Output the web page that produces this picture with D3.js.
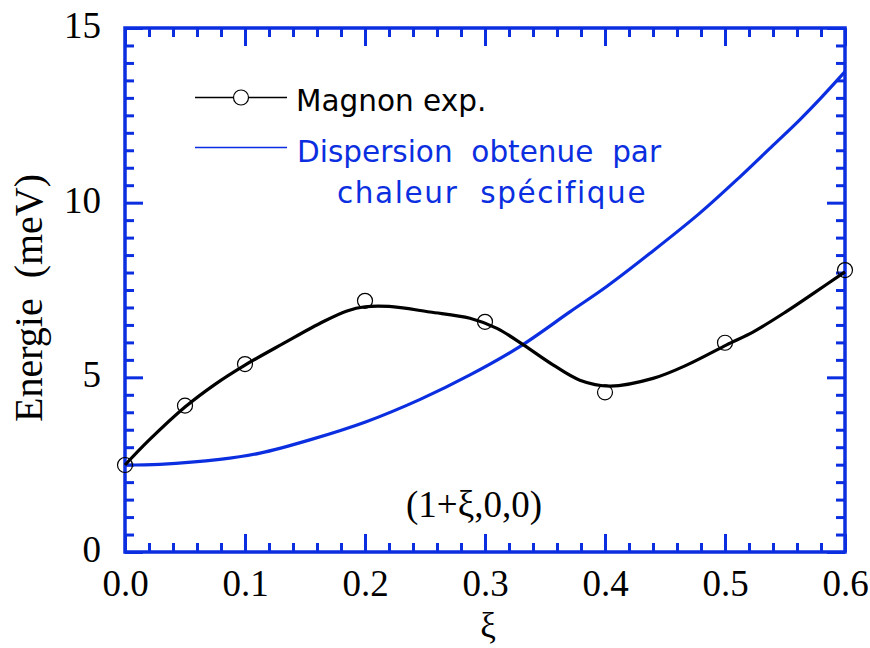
<!DOCTYPE html>
<html>
<head>
<meta charset="utf-8">
<script src="https://cdn.jsdelivr.net/npm/d3@7"></script>
<style>
  html, body { margin: 0; padding: 0; background: #fff; }
  svg { display: block; }
</style>
</head>
<body>
<svg id="chart" width="870" height="648"></svg>
<script>
// ---- Data ----
const xMajorTicks = [0, 0.1, 0.2, 0.3, 0.4, 0.5, 0.6];
const xTickLabels = ["0.0", "0.1", "0.2", "0.3", "0.4", "0.5", "0.6"];
const yMajorTicks = [0, 5, 10, 15];
const yTickLabels = ["0", "5", "10", "15"];

// Experimental magnon points
const magnonX = [0, 0.05, 0.1, 0.2, 0.3, 0.4, 0.5, 0.6];
const magnonE = [2.49, 4.19, 5.38, 7.19, 6.59, 4.57, 5.99, 8.07];

// Smooth guide curve through the magnon data
const magnonCurveX = [0, 0.02, 0.05, 0.075, 0.1, 0.132, 0.165, 0.185, 0.2, 0.22, 0.254, 0.2875, 0.31, 0.332, 0.357, 0.379, 0.404, 0.44, 0.468, 0.5014, 0.524, 0.551, 0.574, 0.6];
const magnonCurveE = [2.49, 3.2, 4.15, 4.8, 5.35, 5.97, 6.59, 6.9, 7.02, 7.03, 6.87, 6.69, 6.40, 5.93, 5.35, 4.92, 4.75, 4.97, 5.35, 5.93, 6.31, 6.88, 7.41, 8.02];

// Dispersion from specific heat
const dispX = [0, 0.029, 0.079, 0.1125, 0.154, 0.201, 0.246, 0.2875, 0.329, 0.371, 0.4014, 0.4375, 0.479, 0.5125, 0.54, 0.5625, 0.58, 0.6];
const dispE = [2.49, 2.51, 2.65, 2.83, 3.21, 3.73, 4.37, 5.07, 5.88, 6.88, 7.60, 8.55, 9.70, 10.74, 11.64, 12.38, 13.0, 13.75];

const legendLabels = ["Magnon exp.", "Dispersion  obtenue  par", "chaleur  spécifique"];

// ---- Layout ----
const BLUE = "#0b2fe0";
const svg = d3.select("#chart");
const pL = 125, pR = 845, pT = 28, pB = 552;

const x = d3.scaleLinear().domain([0, 0.6]).range([pL, pR]);
const y = d3.scaleLinear().domain([0, 15]).range([pB, pT]);

const xMinor = d3.range(0, 0.6001, 0.02).filter(v => Math.abs(v * 10 - Math.round(v * 10)) > 1e-6);
const yMinor = d3.range(0, 15.001, 0.5).filter(v => Math.abs(v / 5 - Math.round(v / 5)) > 1e-6);

const serif = "'Liberation Serif', 'Times New Roman', serif";
const sans = "'DejaVu Sans', Verdana, sans-serif";

function styleAxis(g) {
  g.select(".domain").remove();
  g.selectAll(".tick line").attr("stroke", BLUE).attr("stroke-width", 3);
  g.selectAll(".tick text").attr("fill", "#000").attr("font-family", serif).attr("font-size", 37);
}

// Bottom axis
svg.append("g").attr("transform", `translate(0,${pB})`)
  .call(d3.axisBottom(x).tickValues(xMinor).tickSize(-9).tickFormat(""))
  .call(styleAxis);
svg.append("g").attr("transform", `translate(0,${pB})`)
  .call(d3.axisBottom(x).tickValues(xMajorTicks).tickSize(-18).tickPadding(18)
    .tickFormat((d, i) => xTickLabels[i]))
  .call(styleAxis);
// Top axis
svg.append("g").attr("transform", `translate(0,${pT})`)
  .call(d3.axisTop(x).tickValues(xMinor).tickSize(-9).tickFormat(""))
  .call(styleAxis);
svg.append("g").attr("transform", `translate(0,${pT})`)
  .call(d3.axisTop(x).tickValues(xMajorTicks).tickSize(-18).tickFormat(""))
  .call(styleAxis);
// Left axis
svg.append("g").attr("transform", `translate(${pL},0)`)
  .call(d3.axisLeft(y).tickValues(yMinor).tickSize(-9).tickFormat(""))
  .call(styleAxis);
const yAxisG = svg.append("g").attr("transform", `translate(${pL},0)`)
  .call(d3.axisLeft(y).tickValues(yMajorTicks).tickSize(-18).tickPadding(24)
    .tickFormat((d, i) => yTickLabels[i]))
  .call(styleAxis);
yAxisG.selectAll(".tick text").attr("dy", "0.26em");
// Right axis
svg.append("g").attr("transform", `translate(${pR},0)`)
  .call(d3.axisRight(y).tickValues(yMinor).tickSize(-9).tickFormat(""))
  .call(styleAxis);
svg.append("g").attr("transform", `translate(${pR},0)`)
  .call(d3.axisRight(y).tickValues(yMajorTicks).tickSize(-18).tickFormat(""))
  .call(styleAxis);

// Frame
svg.append("rect")
  .attr("x", pL).attr("y", pT)
  .attr("width", pR - pL).attr("height", pB - pT)
  .attr("fill", "none").attr("stroke", BLUE).attr("stroke-width", 3.5);

// Curves
const line = d3.line().x(d => x(d[0])).y(d => y(d[1])).curve(d3.curveCatmullRom.alpha(0.5));

svg.append("path")
  .datum(dispX.map((v, i) => [v, dispE[i]]))
  .attr("d", line).attr("fill", "none").attr("stroke", BLUE).attr("stroke-width", 3.2);

svg.append("path")
  .datum(magnonCurveX.map((v, i) => [v, magnonCurveE[i]]))
  .attr("d", line).attr("fill", "none").attr("stroke", "#000").attr("stroke-width", 3.2);

svg.append("g").selectAll("circle")
  .data(magnonX.map((v, i) => [v, magnonE[i]]))
  .join("circle")
  .attr("cx", d => x(d[0])).attr("cy", d => y(d[1])).attr("r", 7.5)
  .attr("fill", "none").attr("stroke", "#000").attr("stroke-width", 1.2);

// Legend
const lg = svg.append("g");
lg.append("line").attr("x1", 195).attr("x2", 287).attr("y1", 97.5).attr("y2", 97.5)
  .attr("stroke", "#000").attr("stroke-width", 1.5);
lg.append("circle").attr("cx", 241).attr("cy", 97.5).attr("r", 7.5)
  .attr("fill", "#fff").attr("stroke", "#000").attr("stroke-width", 1.2);
lg.append("text").attr("x", 296).attr("y", 110.5).text(legendLabels[0])
  .attr("font-family", sans).attr("font-size", 29.5).attr("fill", "#000");
lg.append("line").attr("x1", 195).attr("x2", 287).attr("y1", 147.5).attr("y2", 147.5)
  .attr("stroke", BLUE).attr("stroke-width", 1.5);
lg.append("text").attr("x", 297).attr("y", 161.5).text(legendLabels[1])
  .attr("font-family", sans).attr("font-size", 29.5).attr("fill", BLUE)
  .style("white-space", "pre");
lg.append("text").attr("x", 337).attr("y", 203).text(legendLabels[2])
  .attr("font-family", sans).attr("font-size", 29.5).attr("fill", BLUE)
  .attr("letter-spacing", 1.6)
  .style("white-space", "pre");

// Annotation
svg.append("text").attr("x", 474).attr("y", 517).attr("text-anchor", "middle")
  .attr("font-family", serif).attr("font-size", 37).attr("fill", "#000")
  .text("(1+ξ,0,0)");

// Axis titles
svg.append("text").attr("x", 488).attr("y", 637).attr("text-anchor", "middle")
  .attr("font-family", serif).attr("font-size", 35).attr("fill", "#000").text("ξ");
svg.append("text").attr("transform", "translate(42,298) rotate(-90)")
  .attr("text-anchor", "middle")
  .attr("font-family", serif).attr("font-size", 40).attr("fill", "#000")
  .style("white-space", "pre")
  .text("Energie  (meV)");
</script>
</body>
</html>
